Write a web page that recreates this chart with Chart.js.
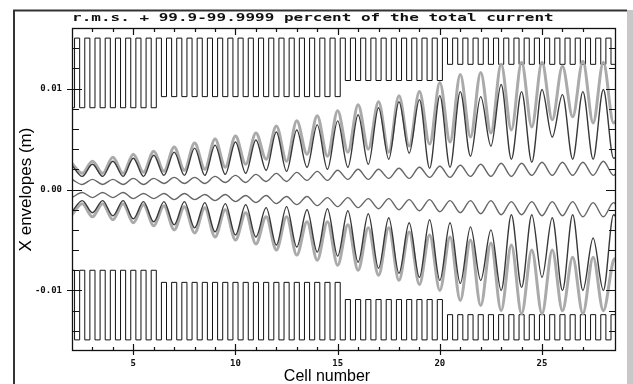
<!DOCTYPE html>
<html><head><meta charset="utf-8">
<script src="https://cdn.jsdelivr.net/npm/chart.js@4/dist/chart.umd.min.js"></script>
<style>html,body{margin:0;padding:0;background:#fff;overflow:hidden}#wrap{width:633px;height:384px;position:relative}</style>
</head><body><div id="wrap"><canvas id="c"></canvas></div>
<script>
// ---- data ----
const titleText = 'r.m.s. + 99.9-99.9999 percent of the total current';
const xTitle = 'Cell number';
const yTitle = 'X envelopes (m)';
const xMin = 2, xMax = 28.62;
const yMin = -0.016, yMax = 0.016;

// cell positions of envelope extrema (maxima at whole cells, minima at half cells)
const cellX = [2,2.5,3,3.5,4,4.5,5,5.5,6,6.5,7,7.5,8,8.5,9,9.5,10,10.5,11,11.5,12,12.5,13,13.5,14,14.5,15,15.5,16,16.5,17,17.5,18,18.5,19,19.5,20,20.5,21,21.5,22,22.5,23,23.5,24,24.5,25,25.5,26,26.5,27,27.5,28,28.5,28.62];

// upper envelope, light grey (99.9999 %)
const upperLight = [0.0026,0.0016,0.0028,0.0016,0.0032,0.0016,0.0035,0.0017,0.0038,0.0018,0.0042,0.0019,0.0046,0.0020,0.0050,0.0022,0.0053,0.0025,0.0056,0.0030,0.0063,0.0028,0.0068,0.0035,0.0073,0.0033,0.0078,0.0037,0.0084,0.0040,0.0087,0.0037,0.0093,0.0043,0.0097,0.0045,0.0106,0.0047,0.0114,0.0052,0.0116,0.0056,0.0124,0.0059,0.0126,0.0062,0.0126,0.0069,0.0122,0.0072,0.0127,0.0066,0.0126,0.0066,0.0068];
// upper envelope, dark (99.9 %)
const upperDark = [0.0024,0.0013,0.0025,0.0013,0.0028,0.0013,0.0031,0.0013,0.0034,0.0014,0.0037,0.0014,0.0041,0.0014,0.0044,0.0015,0.0047,0.0016,0.0049,0.0019,0.0057,0.0018,0.0059,0.0022,0.0064,0.0020,0.0068,0.0022,0.0074,0.0025,0.0081,0.0030,0.0087,0.0036,0.0089,0.0021,0.0093,0.0022,0.0097,0.0033,0.0092,0.0043,0.0104,0.0030,0.0097,0.0027,0.0099,0.0052,0.0094,0.0030,0.0097,0.0030,0.0099,0.0031,0.0032];
// upper r.m.s.
const upperRms = [0.0010,0.0005,0.0010,0.0005,0.0010,0.0005,0.0011,0.0005,0.0011,0.0006,0.0012,0.0006,0.0012,0.0006,0.0013,0.0007,0.0014,0.0007,0.0015,0.0008,0.0016,0.0008,0.0017,0.0009,0.0018,0.0009,0.0019,0.0010,0.0020,0.0010,0.0020,0.0011,0.0021,0.0011,0.0022,0.0012,0.0023,0.0012,0.0024,0.0013,0.0025,0.0013,0.0026,0.0013,0.0026,0.0014,0.0027,0.0014,0.0027,0.0014,0.0027,0.0014,0.0028,0.0014,0.0016];
// lower r.m.s.
const lowerRms = [-0.0008,-0.0003,-0.0008,-0.0003,-0.0008,-0.0003,-0.0009,-0.0004,-0.0009,-0.0004,-0.0010,-0.0004,-0.0010,-0.0005,-0.0011,-0.0005,-0.0012,-0.0006,-0.0013,-0.0006,-0.0014,-0.0007,-0.0015,-0.0007,-0.0016,-0.0008,-0.0017,-0.0008,-0.0018,-0.0009,-0.0019,-0.0009,-0.0020,-0.0010,-0.0021,-0.0010,-0.0022,-0.0011,-0.0023,-0.0011,-0.0024,-0.0011,-0.0025,-0.0012,-0.0025,-0.0012,-0.0026,-0.0012,-0.0026,-0.0012,-0.0027,-0.0013,-0.0027,-0.0013,-0.0015];
// lower envelope, dark
const lowerDark = [-0.0022,-0.0011,-0.0023,-0.0011,-0.0026,-0.0011,-0.0029,-0.0012,-0.0032,-0.0012,-0.0035,-0.0012,-0.0038,-0.0013,-0.0042,-0.0014,-0.0045,-0.0015,-0.0047,-0.0018,-0.0055,-0.0017,-0.0057,-0.0020,-0.0062,-0.0019,-0.0066,-0.0021,-0.0072,-0.0024,-0.0078,-0.0028,-0.0083,-0.0033,-0.0087,-0.0030,-0.0090,-0.0033,-0.0093,-0.0037,-0.0090,-0.0040,-0.0100,-0.0025,-0.0097,-0.0025,-0.0087,-0.0028,-0.0100,-0.0025,-0.0100,-0.0048,-0.0100,-0.0025,-0.0027];
// lower envelope, light grey
const lowerLight = [-0.0025,-0.0014,-0.0027,-0.0014,-0.0030,-0.0014,-0.0033,-0.0015,-0.0036,-0.0016,-0.0040,-0.0017,-0.0043,-0.0018,-0.0047,-0.0020,-0.0050,-0.0023,-0.0054,-0.0027,-0.0060,-0.0027,-0.0065,-0.0032,-0.0070,-0.0032,-0.0075,-0.0035,-0.0080,-0.0038,-0.0085,-0.0038,-0.0090,-0.0042,-0.0094,-0.0045,-0.0100,-0.0047,-0.0110,-0.0050,-0.0115,-0.0053,-0.0120,-0.0055,-0.0123,-0.0060,-0.0123,-0.0060,-0.0120,-0.0067,-0.0123,-0.0067,-0.0120,-0.0070,-0.0068];

// aperture (square wave): outer level, inner level per section, section ends (cell)
const apertureUpperOuter = 0.0150;
const apertureUpperInner = [0.0081, 0.0092, 0.0108, 0.0124];
const apertureLowerOuter = -0.0149;
const apertureLowerInner = [-0.0080, -0.0092, -0.0109, -0.0124];
const apertureSectionEnds = [6.125, 15.125, 20.125, 28.62];
const apertureEdgeOffset = 0.125;   // first edge after cell start
const apertureEdgeStep = 0.25;      // quarter-cell edges

// ---- build library tables ----
function pairs(xs, ys){ return xs.map((x,i)=>({x:x, y:ys[i]})); }
function buildAperture(outer, inner){
  const edges = [xMin];
  for (let t = xMin + apertureEdgeOffset; t < xMax - 1e-9; t += apertureEdgeStep) edges.push(t);
  const pts = [];
  for (let i = 0; i < edges.length; i++){
    const a = edges[i], b = (i+1 < edges.length) ? edges[i+1] : xMax;
    const c = (a+b)/2;
    const q = Math.round(c*4);
    let v;
    if (q % 2 === 1) v = outer;
    else { let s = 0; while (s < apertureSectionEnds.length-1 && c > apertureSectionEnds[s]) s++; v = inner[s]; }
    pts.push({x:a, y:v});
  }
  pts.push({x:xMax, y:pts[pts.length-1].y});
  return pts;
}

const curve = (data, color, w) => ({data, borderColor:color, borderWidth:w, pointRadius:0, fill:false, cubicInterpolationMode:'monotone'});

const datasets = [
  Object.assign(curve(pairs(cellX, upperDark), '#383838', 1.4), {order:1}),
  Object.assign(curve(pairs(cellX, lowerDark), '#383838', 1.4), {order:1}),
  Object.assign(curve(pairs(cellX, upperRms), '#666666', 1.4), {order:2}),
  Object.assign(curve(pairs(cellX, lowerRms), '#666666', 1.4), {order:2}),
  Object.assign(curve(pairs(cellX, upperLight), '#aaaaaa', 3), {order:3}),
  Object.assign(curve(pairs(cellX, lowerLight), '#aaaaaa', 3), {order:3}),
  {data: buildAperture(apertureUpperOuter, apertureUpperInner), borderColor:'#111', borderWidth:1, pointRadius:0, stepped:'before', tension:0, order:4},
  {data: buildAperture(apertureLowerOuter, apertureLowerInner), borderColor:'#111', borderWidth:1, pointRadius:0, stepped:'before', tension:0, order:4}
];

const decor = {
  id:'decor',
  beforeDraw(chart){
    const ctx = chart.ctx;
    ctx.save();
    ctx.fillStyle = '#fff'; ctx.fillRect(0,0,chart.width,chart.height);
    // outer frame
    ctx.fillStyle = '#c8c8c8'; ctx.fillRect(627, 10, 6, 374);
    ctx.strokeStyle = '#333'; ctx.lineWidth = 2;
    ctx.beginPath(); ctx.moveTo(14, 384); ctx.lineTo(14, 10.5); ctx.lineTo(627, 10.5); ctx.stroke();
    ctx.restore();
  },
  afterDraw(chart){
    const ctx = chart.ctx, a = chart.chartArea, xs = chart.scales.x, ys = chart.scales.y;
    ctx.save();
    ctx.strokeStyle = '#111'; ctx.lineWidth = 1.3;
    ctx.strokeRect(a.left+0.5, a.top+0.5, a.right-a.left-1, a.bottom-a.top-1);
    ctx.lineWidth = 1.2;
    ctx.beginPath();
    xs.ticks.forEach(t => {
      const v = t.value; if (Math.abs(v-Math.round(v))>1e-6) return;
      const r = Math.round(v); if (r <= xMin || v >= xMax) return;
      const p = Math.round(xs.getPixelForValue(v)) + 0.5;
      const major = r % 5 === 0;
      ctx.moveTo(p, a.bottom + (major?4:0)); ctx.lineTo(p, a.bottom - (major?7:4));
      ctx.moveTo(p, a.top); ctx.lineTo(p, a.top + (major?7:4));
    });
    ys.ticks.forEach(t => {
      const v = t.value; if (v <= yMin+1e-9 || v >= yMax-1e-9) return;
      const k = Math.round(v*1000); const major = k % 10 === 0;
      const p = Math.round(ys.getPixelForValue(v)) + 0.5;
      ctx.moveTo(a.left - (major?5:0), p); ctx.lineTo(a.left + (major?10:7), p);
      ctx.moveTo(a.right, p); ctx.lineTo(a.right - (major?10:7), p);
    });
    ctx.stroke();
    // title (pixel-style, widened monospace)
    ctx.fillStyle = '#111';
    ctx.textBaseline = 'middle'; ctx.textAlign = 'left';
    ctx.save(); ctx.translate(72, 18); ctx.scale(1.6, 1);
    ctx.font = 'bold 10px "DejaVu Sans Mono"'; ctx.fillText(titleText, 0, 0); ctx.restore();
    // axis titles
    ctx.fillStyle = '#000';
    ctx.font = '16px "Liberation Sans", Arial, sans-serif'; ctx.textAlign = 'center';
    ctx.fillText(xTitle, 327, 377);
    ctx.save(); ctx.translate(26, 189.5); ctx.rotate(-Math.PI/2);
    ctx.font = '17px "Liberation Sans", Arial, sans-serif'; ctx.fillText(yTitle, 0, 0); ctx.restore();
    ctx.restore();
  }
};

new Chart(document.getElementById('c'), {
  type:'line',
  data:{datasets},
  options:{
    responsive:true, maintainAspectRatio:false, animation:false, devicePixelRatio:1,
    layout:{padding:{top:28, right:17, left:0, bottom:0}},
    plugins:{legend:{display:false}, tooltip:{enabled:false}, title:{display:false}},
    scales:{
      x:{type:'linear', min:xMin, max:xMax,
         grid:{display:false, drawTicks:false}, border:{display:false},
         afterFit(s){ s.height = 33; },
         ticks:{stepSize:1, autoSkip:false, maxRotation:0, padding:7, color:'#111',
                font:{family:'"DejaVu Sans Mono"', size:9, weight:'bold'},
                callback:(v)=>{ const r=Math.round(v); return (Math.abs(v-r)<1e-6 && r%5===0) ? String(r) : ''; }}},
      y:{type:'linear', min:yMin, max:yMax,
         grid:{display:false, drawTicks:false}, border:{display:false},
         afterFit(s){ s.width = 72; },
         ticks:{stepSize:0.002, autoSkip:false, padding:10, color:'#111',
                font:{family:'"DejaVu Sans Mono"', size:9, weight:'bold'},
                callback:(v)=>{ const k=Math.round(v*1000); return (k%10===0) ? (k/1000).toFixed(2) : ''; }}}
    }
  },
  plugins:[decor]
});
</script>
</body></html>
